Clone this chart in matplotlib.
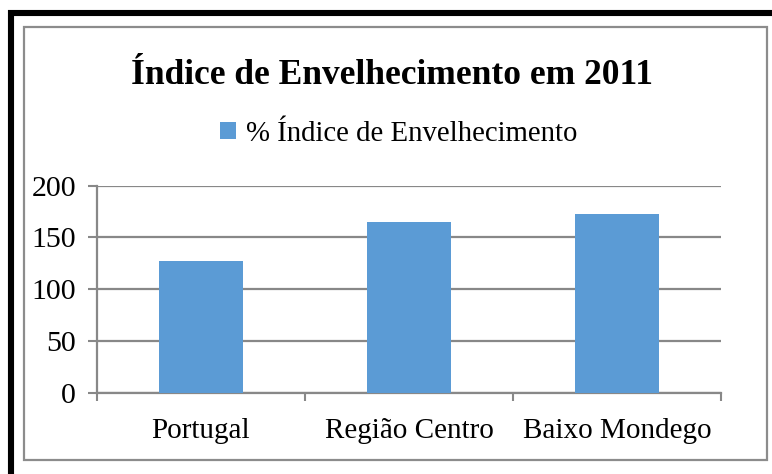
import matplotlib
matplotlib.use('Agg')
import matplotlib.pyplot as plt
from matplotlib.patches import Rectangle

categories = ['Portugal', 'Região Centro', 'Baixo Mondego']
values = [127, 165, 173]
series_name = '% Índice de Envelhecimento'
title = 'Índice de Envelhecimento em 2011'
yticks = [0, 50, 100, 150, 200]

plt.rcParams['font.family'] = ['Liberation Serif', 'DejaVu Serif']

W, H = 772, 474
fig = plt.figure(figsize=(W / 100, H / 100), dpi=100)
ax = fig.add_axes([97 / W, 1 - 392.7 / H, (721 - 97) / W, (392.7 - 185.7) / H])

grid_col = '#888888'
x = list(range(len(categories)))
bars = ax.bar(x, values, width=0.405, color='#5B9BD5', label=series_name, zorder=3)

ax.set_xlim(-0.5, len(categories) - 0.5)
ax.set_ylim(0, 200)
ax.set_yticks(yticks)
ax.set_xticks(x)
ax.set_xticklabels(categories)
ax.set_xticks([i - 0.5 for i in range(len(categories) + 1)], minor=True)

ax.yaxis.grid(True, color=grid_col, linewidth=1.6, zorder=0)
for s in ['top', 'right']:
    ax.spines[s].set_visible(False)
for s in ['left', 'bottom']:
    ax.spines[s].set_color(grid_col)
    ax.spines[s].set_linewidth(1.6)

ax.tick_params(axis='y', length=6.5, width=1.5, color=grid_col, labelsize=21.5, pad=8.5)
ax.tick_params(axis='x', which='major', length=0, labelsize=21, pad=18)
ax.tick_params(axis='x', which='minor', length=6, width=1.5, color=grid_col)

fig.text(0.508, 1 - 75 / H, title, ha='center', va='center', fontsize=25.5, fontweight='bold')
fig.legend(handles=[bars], loc='center', bbox_to_anchor=(0.517, 1 - 134 / H),
           frameon=False, fontsize=20.7, handlelength=0.55, handleheight=0.55,
           handletextpad=0.35, borderpad=0)

# outer black frame (runs off right/bottom) and inner gray chart border
fig.add_artist(Rectangle((11 / W, -0.1), 1.2, 1 - 13 / H + 0.1, transform=fig.transFigure,
                         fill=False, edgecolor='black', linewidth=4.4))
fig.add_artist(Rectangle((24 / W, 1 - 460 / H), (767 - 24) / W, (460 - 27) / H,
                         transform=fig.transFigure, fill=False, edgecolor='#8c8c8c', linewidth=1.6))

fig.savefig('out.png', dpi=100)
